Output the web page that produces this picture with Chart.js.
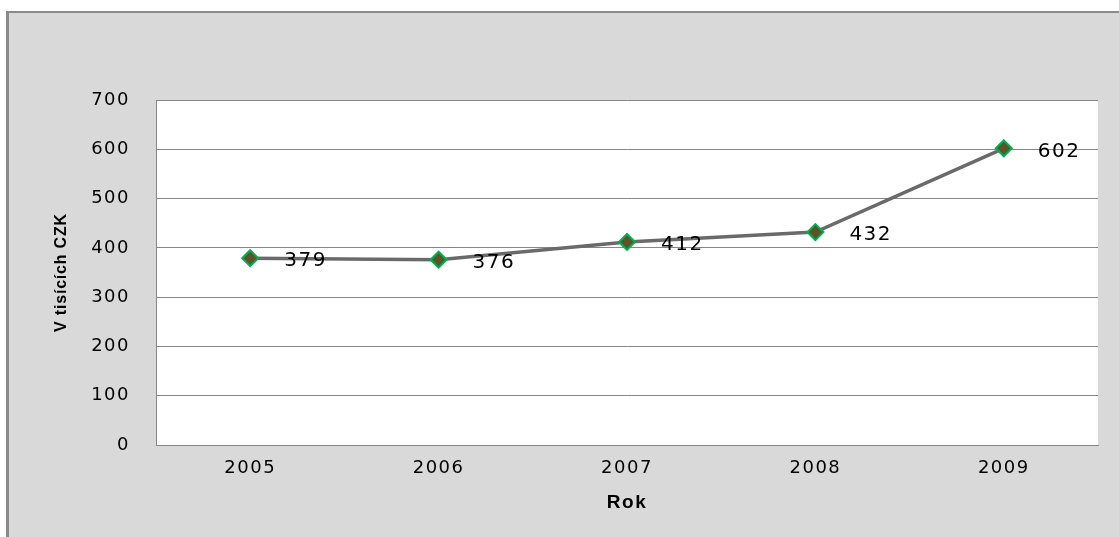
<!DOCTYPE html>
<html>
<head>
<meta charset="utf-8">
<script src="https://cdn.jsdelivr.net/npm/chart.js@4.4.0/dist/chart.umd.min.js"></script>
<style>
  body { margin: 0; background: #ffffff; }
  #frame {
    position: absolute; left: 6px; top: 11px;
    width: 1110px; height: 524px;
    background: #d9d9d9;
    border-left: 3px solid #8a8a8a;
    border-top: 2px solid #8a8a8a;
  }
  canvas { display: block; }
</style>
</head>
<body>
<div id="frame"><canvas id="chart" width="1110" height="524"></canvas></div>
<script>
// Chart data
const years = ['2005', '2006', '2007', '2008', '2009'];
const values = [379, 376, 412, 432, 602];
const yTicks = [0, 100, 200, 300, 400, 500, 600, 700];
const yTitle = 'V tisících CZK';

// white plot area + a bit of letter spacing like the original export
const plotArea = {
    id: 'plotArea',
    beforeDraw(chart) {
        const { ctx, chartArea: a } = chart;
        ctx.save();
        ctx.fillStyle = '#ffffff';
        ctx.fillRect(a.left, a.top, a.right - a.left, a.bottom - a.top);
        ctx.restore();
        ctx.letterSpacing = '1.5px';
    },
    afterDraw(chart) {
        const ctx = chart.ctx;
        // y axis title
        ctx.save();
        ctx.letterSpacing = '0.8px';
        ctx.font = 'bold 16px "Liberation Sans"';
        ctx.fillStyle = '#000000';
        ctx.textAlign = 'center';
        ctx.textBaseline = 'middle';
        ctx.translate(53, (chart.chartArea.top + chart.chartArea.bottom) / 2);
        ctx.rotate(-Math.PI / 2);
        ctx.fillText(yTitle, 0, 0);
        ctx.restore();
        ctx.letterSpacing = '0px';
    }
};

// draws the value next to each marker
const valueLabels = {
    id: 'valueLabels',
    afterDatasetsDraw(chart) {
        const ctx = chart.ctx;
        const meta = chart.getDatasetMeta(0);
        ctx.save();
        ctx.letterSpacing = '1.5px';
        ctx.font = '20px "DejaVu Sans"';
        ctx.fillStyle = '#000000';
        ctx.textAlign = 'left';
        ctx.textBaseline = 'middle';
        meta.data.forEach((pt, i) => {
            ctx.fillText(String(values[i]), pt.x + 34, pt.y + 3);
        });
        ctx.restore();
    }
};

new Chart(document.getElementById('chart').getContext('2d'), {
    type: 'line',
    data: {
        labels: years,
        datasets: [{
            data: values,
            borderColor: '#6a6a6a',
            borderWidth: 3.5,
            pointStyle: 'rectRot',
            pointRadius: 8,
            pointHoverRadius: 8,
            pointBackgroundColor: '#5c5427',
            pointBorderColor: '#00b050',
            pointBorderWidth: 2,
            tension: 0
        }]
    },
    options: {
        responsive: false,
        animation: false,
        layout: { padding: { top: 87, right: 21, left: 0, bottom: 0 } },
        plugins: {
            legend: { display: false },
            tooltip: { enabled: false }
        },
        scales: {
            x: {
                offset: true,
                grid: { display: false, drawTicks: false },
                border: { display: true, color: '#868686', width: 1 },
                ticks: {
                    color: '#000000',
                    padding: 13,
                    font: { family: 'DejaVu Sans', size: 18 }
                },
                title: {
                    display: true,
                    text: 'Rok',
                    color: '#000000',
                    padding: { top: 0, bottom: 23 },
                    font: { family: 'Liberation Sans', size: 19, weight: 'bold' }
                },
                afterFit(scale) { scale.height = 92; }
            },
            y: {
                min: 0,
                max: 700,
                grid: { color: '#868686', lineWidth: 1, drawTicks: false },
                border: { display: true, color: '#868686', width: 1 },
                afterBuildTicks(scale) { scale.ticks = yTicks.map(v => ({ value: v })); },
                ticks: {
                    color: '#000000',
                    padding: 26,
                    font: { family: 'DejaVu Sans', size: 18 }
                },
                afterFit(scale) { scale.width = 147; }
            }
        }
    },
    plugins: [plotArea, valueLabels]
});
</script>
</body>
</html>
